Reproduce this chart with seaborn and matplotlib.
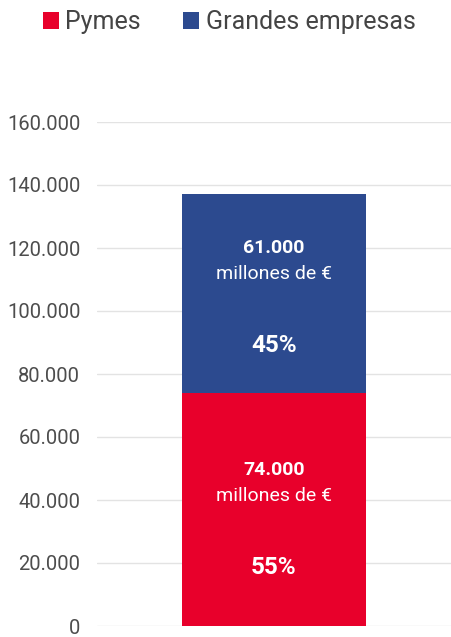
import matplotlib
matplotlib.use("Agg")
import matplotlib.pyplot as plt
import seaborn as sns
import pandas as pd
from matplotlib.patches import Patch

# Data
category = ["Empresas"]
pymes = [74000]
grandes = [63000]
series_names = ["Pymes", "Grandes empresas"]
value_labels = ["74.000", "61.000"]
pct_labels = ["55%", "45%"]
unit_label = "millones de €"
yticks = [0, 20000, 40000, 60000, 80000, 100000, 120000, 140000, 160000]
ytick_labels = ["0", "20.000", "40.000", "60.000", "80.000", "100.000", "120.000", "140.000", "160.000"]

RED = "#E8002B"
BLUE = "#2C4A8F"

sns.set_theme(style="white")
plt.rcParams["font.family"] = ["Roboto", "DejaVu Sans"]

fig = plt.figure(figsize=(4.51, 6.37), dpi=100)
ax = fig.add_axes([97 / 451, 11 / 637, 1 - 97 / 451, (626 - 122) / 637])

df_total = pd.DataFrame({"cat": category, "v": [p + g for p, g in zip(pymes, grandes)]})
df_p = pd.DataFrame({"cat": category, "v": pymes})
sns.barplot(data=df_total, x="cat", y="v", color=BLUE, saturation=1, width=0.517, ax=ax,
            zorder=3, linewidth=0, edgecolor="none")
sns.barplot(data=df_p, x="cat", y="v", color=RED, saturation=1, width=0.517, ax=ax,
            zorder=3, linewidth=0, edgecolor="none")

ax.set_xlim(-0.5, 0.5)
ax.set_ylim(0, 160000)
ax.set_yticks(yticks)
ax.set_yticklabels(ytick_labels, fontsize=14.5, color="#4d4d4d")
ax.tick_params(axis="y", length=0, pad=12)
ax.set_xticks([])
ax.set_xlabel("")
ax.set_ylabel("")
ax.grid(axis="y", color="#e3e3e3", linewidth=1.0, zorder=0)
for s in ax.spines.values():
    s.set_visible(False)

# Segment labels
segs = [(0, pymes[0], value_labels[0], pct_labels[0], (39, 13, -58)),
        (pymes[0], pymes[0] + grandes[0], value_labels[1], pct_labels[1], (45.5, 19.5, -51.5))]
for lo, hi, vl, pl, offs in segs:
    mid = (lo + hi) / 2
    ax.annotate(vl, (0, mid), xytext=(0, offs[0]), textcoords="offset pixels",
                ha="center", va="center", color="white", fontsize=14, fontweight="bold", zorder=5)
    ax.annotate(unit_label, (0, mid), xytext=(0, offs[1]), textcoords="offset pixels",
                ha="center", va="center", color="white", fontsize=14, zorder=5)
    ax.annotate(pl, (0, mid), xytext=(0, offs[2]), textcoords="offset pixels",
                ha="center", va="center", color="white", fontsize=17.5, fontweight="bold", zorder=5)

handles = [Patch(facecolor=RED, edgecolor="none", label=series_names[0]),
           Patch(facecolor=BLUE, edgecolor="none", label=series_names[1])]
leg = fig.legend(handles=handles, loc="center", bbox_to_anchor=(0.508, 1 - 22 / 637), ncol=2,
                 frameon=False, handlelength=0.65, handleheight=0.65,
                 handletextpad=0.25, columnspacing=1.7, borderaxespad=0,
                 prop={"size": 18})
for t in leg.get_texts():
    t.set_color("#444444")

fig.savefig("out.png", dpi=100)
